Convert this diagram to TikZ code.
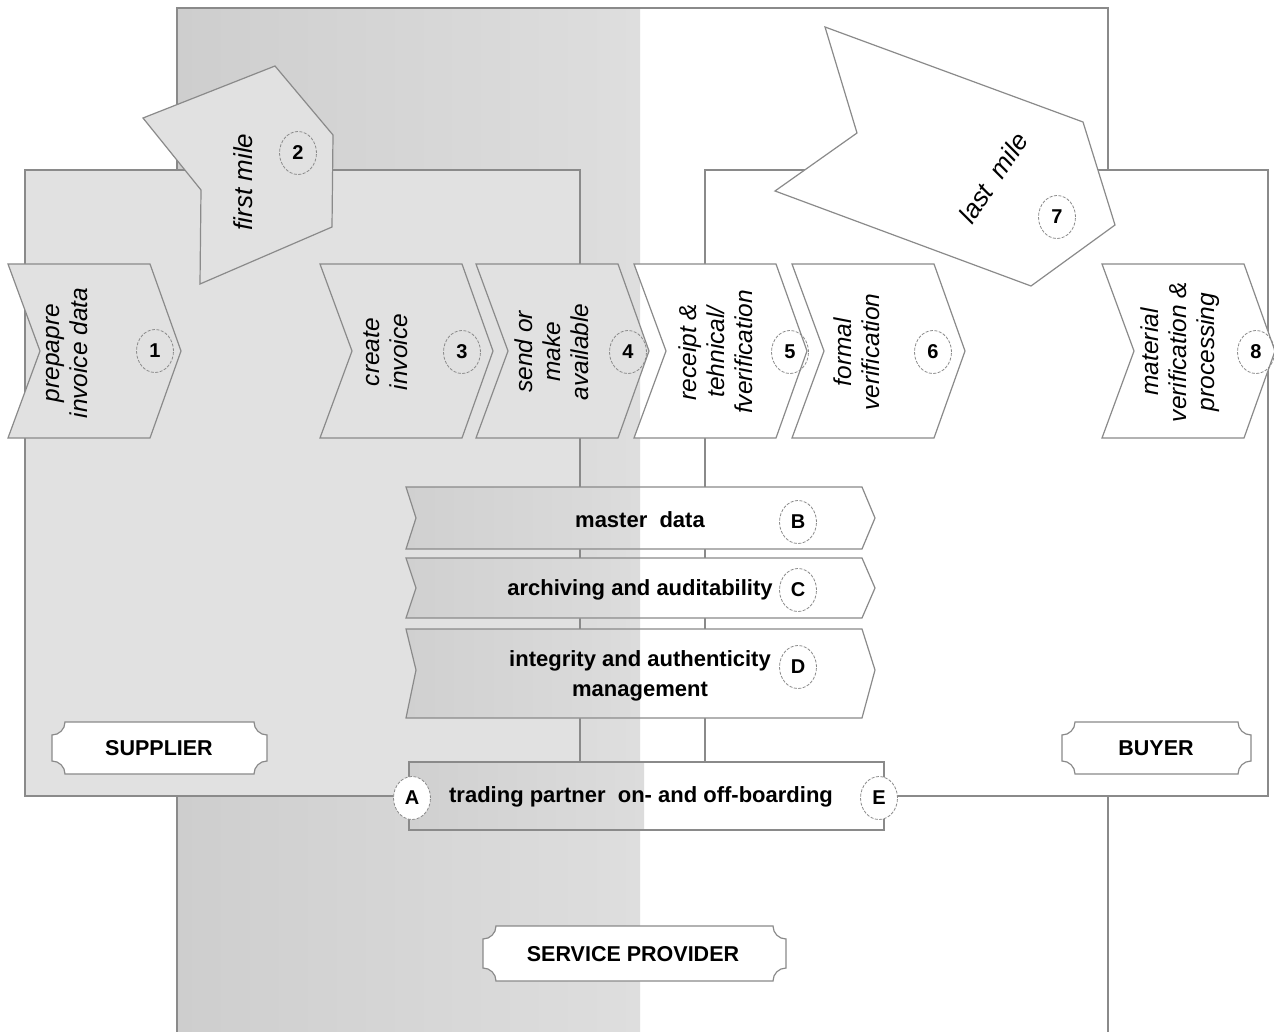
\documentclass[tikz,border=0pt]{standalone}
\usepackage{fontspec}
\setmainfont{Liberation Sans}
\usetikzlibrary{shapes.geometric}
\definecolor{lineC}{RGB}{138,138,138}
\definecolor{boxG}{RGB}{225,225,225}
\definecolor{colL}{RGB}{206,206,206}
\definecolor{colR}{RGB}{222,222,222}
\definecolor{barL}{RGB}{208,208,208}
\definecolor{barR}{RGB}{220,220,220}

\newcommand{\mychev}[2]{%
  \draw[edge, fill=#2] (#1,264) -- ({#1+142},264) -- ({#1+173},351) -- ({#1+142},438) -- (#1,438) -- ({#1+32},351) -- cycle;}
\newcommand{\mybar}[3]{%
  \fill[white] (406,#1) -- (862,#1) -- (875,#2) -- (862,#3) -- (406,#3) -- (416,#2) -- cycle;
  \begin{scope}
    \clip (406,#1) -- (862,#1) -- (875,#2) -- (862,#3) -- (406,#3) -- (416,#2) -- cycle;
    \shade[left color=barL, right color=barR] (405,#1) rectangle (640,#3);
  \end{scope}
  \draw[edge] (406,#1) -- (862,#1) -- (875,#2) -- (862,#3) -- (406,#3) -- (416,#2) -- cycle;}
\newcommand{\myticket}[4]{%
  \draw[edge, fill=white] ({#1+13},#2) -- ({#3-13},#2)
    .. controls ({#3-13},{#2+7.2}) and ({#3-7.2},{#2+13}) .. (#3,{#2+13})
    -- (#3,{#4-13})
    .. controls ({#3-7.2},{#4-13}) and ({#3-13},{#4-7.2}) .. ({#3-13},#4)
    -- ({#1+13},#4)
    .. controls ({#1+13},{#4-7.2}) and ({#1+7.2},{#4-13}) .. (#1,{#4-13})
    -- (#1,{#2+13})
    .. controls ({#1+7.2},{#2+13}) and ({#1+13},{#2+7.2}) .. ({#1+13},#2) -- cycle;}

\begin{document}
\begin{tikzpicture}[x=1pt, y=-1pt,
  edge/.style={draw=lineC, line width=1.2pt},
  chevtxt/.style={rotate=90, align=center, inner sep=0pt, font=\fontsize{24.5}{28}\selectfont\itshape},
  miletxt/.style={align=center, inner sep=0pt, font=\fontsize{26}{28}\selectfont\itshape},
  bartxt/.style={align=center, inner sep=0pt, font=\fontsize{22}{30}\selectfont\bfseries},
  lbltxt/.style={inner sep=0pt, font=\fontsize{21.5}{25}\selectfont\bfseries},
  numc/.style={ellipse, draw=lineC, line width=0.8pt, dash pattern=on 3pt off 1.5pt,
    minimum width=37pt, minimum height=43pt, inner sep=0pt, font=\fontsize{20}{20}\selectfont\bfseries}]
\useasboundingbox (0,0) rectangle (1274,1032);
\clip (0,0) rectangle (1274,1032);
\fill[white] (0,0) rectangle (1274,1032);

% service provider column
\shade[left color=colL, right color=colR] (177,8) rectangle (640,1040);
\draw[edge] (177,1040) -- (177,8) -- (1108,8) -- (1108,1040);

% supplier and buyer areas
\draw[edge, fill=boxG] (25,170) rectangle (580,796);
\draw[edge, fill=white] (705,170) rectangle (1268,796);

% first mile / last mile
\draw[edge, fill=boxG] (143,118) -- (275,66) -- (333,135) -- (332,227) -- (200,284) -- (201,190) -- cycle;
\draw[edge, fill=white] (825,27) -- (1083,122) -- (1115,225) -- (1031,286) -- (775,191) -- (857,133) -- cycle;
\node[miletxt, rotate=90] (t2) at (243,182) {first mile};
\node[miletxt, rotate=56] (t7) at (993,178) {last~ mile};

% process chevrons
\mychev{8}{boxG}
\mychev{320}{boxG}
\mychev{476}{boxG}
\mychev{634}{white}
\mychev{792}{white}
\mychev{1102}{white}

\node[chevtxt] (t1) at (67,353) {prepapre\\invoice data};
\node[chevtxt] (t3) at (386,352) {create\\invoice};
\node[chevtxt] (t4) at (552,352) {send or\\make\\available};
\node[chevtxt] (t5) at (716,352) {receipt \&\\tehnical/\\fverification};
\node[chevtxt] (t6) at (857,352) {formal\\verification};
\node[chevtxt] (t8) at (1180,352) {material\\verification \&\\processing};

% service bars
\mybar{487}{518}{549}
\mybar{558}{588}{618}
\mybar{629}{670}{718}
\node[bartxt] (tB) at (640,520) {master~ data};
\node[bartxt] (tC) at (640,590) {archiving and auditability};
\node[bartxt] (tD) at (640,676) {integrity and authenticity\\management};

% trading partner bar
\fill[white] (409,762) rectangle (884,830);
\shade[left color=barL, right color=barR] (409,762) rectangle (644,830);
\draw[edge] (409,762) rectangle (884,830);
\node[bartxt] (tA) at (641,797) {trading partner~ on- and off-boarding};

% numbered markers
\node[numc] (n1) at (155,351) {1};
\node[numc] (n2) at (298,153) {2};
\node[numc] (n3) at (462,352) {3};
\node[numc] (n4) at (628,352) {4};
\node[numc] (n5) at (790,352) {5};
\node[numc] (n6) at (933,352) {6};
\node[numc] (n7) at (1057,217) {7};
\node[numc] (n8) at (1256,352) {8};
\node[numc] (nB) at (798,522) {B};
\node[numc] (nC) at (798,590) {C};
\node[numc] (nD) at (798,667) {D};
\node[numc, fill=white] (nA) at (412,798) {A};
\node[numc, fill=white] (nE) at (879,798) {E};

% role labels
\myticket{52}{722}{267}{774}
\myticket{1062}{722}{1251}{774}
\myticket{483}{926}{786}{981}
\node[lbltxt] (lS) at (159,748) {SUPPLIER};
\node[lbltxt] (lB) at (1156,748) {BUYER};
\node[lbltxt] (lP) at (633,954) {SERVICE PROVIDER};
\end{tikzpicture}
\end{document}
